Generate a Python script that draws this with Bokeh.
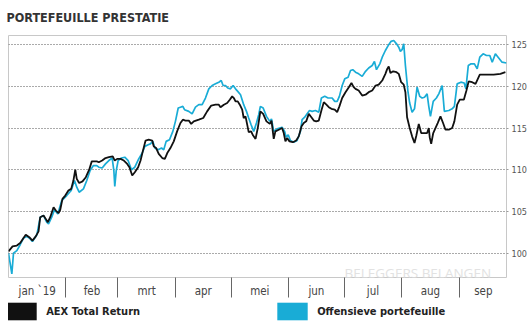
from bokeh.plotting import figure
from bokeh.layouts import column
from bokeh.models import (ColumnDataSource, FixedTicker, Range1d, Label,
                          Legend, LegendItem)
from bokeh.embed import file_html
from bokeh.resources import INLINE

# ---------------- data (days since 1 Jan 2019, index level) ----------------
aex_day = [0, 2.2, 4.5, 6.3, 8.1, 9.3, 11.2, 12.9, 14.7, 16.2,
           17.1, 18.9, 20.1, 21.2, 22.5, 24.3, 25.5, 27.0, 27.9, 29.1,
           30.6, 32.3, 33.8, 35.0, 36.0, 36.8, 38.1, 39.9, 41.7, 43.5,
           44.9, 47.6, 48.7, 50.5, 52.3, 54.1, 56.2, 57.3, 58.6, 60.4,
           62.2, 64.0, 65.2, 66.7, 68.1, 69.9, 71.2, 72.4, 73.9, 75.6,
           77.5, 78.3, 79.6, 81.0, 82.9, 84.3, 85.6, 87.3, 89.1, 90.9,
           92.7, 94.0, 95.4, 97.2, 98.5, 99.9, 102.6, 105.0, 107.1, 109.3,
           111.6, 113.4, 114.3, 116.1, 117.9, 119.3, 120.6, 121.5, 122.4, 123.6,
           124.7, 126.0, 126.8, 127.8, 128.7, 129.5, 130.8, 131.9, 133.2, 134.4,
           135.8, 137.3, 139.1, 140.9, 141.8, 143.0, 143.9, 145.7, 147.5, 148.4,
           149.3, 150.2, 151.5, 153.3, 155.1, 156.5, 158.0, 159.2, 160.5, 161.9,
           163.3, 164.6, 165.9, 167.3, 168.7, 170.0, 171.4, 172.7, 174.1, 175.9,
           177.2, 178.4, 179.9, 181.7, 183.5, 184.9, 186.1, 187.1, 188.8, 190.7,
           192.5, 194.2, 196.1, 197.9, 199.6, 201.5, 203.2, 204.2, 205.0, 205.9,
           207.4, 209.2, 210.4, 211.7, 213.1, 214.0, 214.9, 216.3, 217.6, 218.9,
           219.9, 221.2, 222.5, 224.3, 225.7, 226.6, 227.1, 227.9, 229.0, 230.2,
           231.4, 232.9, 234.3, 235.6, 237.4, 239.2, 240.4, 241.9, 243.3, 245.5,
           246.9, 248.1, 250.0, 251.8, 254.1, 256.2, 261.6, 265.2, 267.9]
aex_val = [100.2, 100.8, 100.9, 101.2, 101.8, 102.2, 101.9, 101.5, 102.0, 102.6,
           104.3, 104.5, 104.1, 103.7, 104.3, 105.5, 105.1, 104.8, 105.2, 106.5,
           106.9, 107.5, 107.7, 108.7, 110.0, 108.9, 108.4, 108.6, 109.1, 110.0,
           111.0, 111.0, 110.9, 111.1, 111.4, 111.5, 111.6, 111.1, 111.3, 111.3,
           111.1, 110.7, 110.3, 109.3, 109.7, 110.3, 111.1, 112.2, 113.5, 113.6,
           113.5, 112.8, 112.6, 111.9, 111.4, 111.3, 112.0, 112.6, 113.4, 114.6,
           115.6, 116.0, 115.9, 115.9, 115.5, 115.8, 116.0, 116.2, 117.0, 117.7,
           117.8, 117.8, 117.5, 117.8, 118.0, 118.4, 118.8, 118.6, 118.2, 118.2,
           117.8, 117.2, 116.2, 116.4, 115.4, 114.5, 114.6, 114.1, 113.7, 115.0,
           117.0, 116.7, 115.8, 115.5, 115.9, 113.7, 114.6, 114.8, 115.0, 114.4,
           113.4, 113.8, 113.4, 113.3, 113.5, 114.0, 115.2, 115.6, 115.8, 116.7,
           116.3, 115.9, 115.8, 115.9, 117.1, 118.1, 117.8, 117.5, 117.3, 117.2,
           116.9, 117.6, 118.6, 119.3, 119.9, 120.4, 119.9, 119.7, 119.5, 118.9,
           119.0, 119.3, 119.5, 120.1, 120.2, 120.7, 121.5, 122.1, 122.4, 121.6,
           121.8, 121.7, 121.5, 120.5, 120.2, 119.3, 116.3, 115.0, 114.0, 113.2,
           114.1, 115.5, 114.4, 114.4, 114.4, 115.0, 113.9, 113.1, 114.4, 115.0,
           115.6, 116.4, 115.6, 114.8, 114.8, 115.0, 115.8, 117.8, 118.4, 118.4,
           119.5, 120.6, 120.5, 120.3, 121.4, 121.4, 121.4, 121.5, 121.7]

off_day = [0, 1.8, 2.7, 4.5, 6.3, 8.1, 9.9, 11.7, 12.9, 15.3,
           17.1, 18.9, 20.6, 21.6, 23.3, 24.8, 26.6, 28.7, 31.4, 33.8,
           35.6, 36.8, 38.1, 40.4, 42.2, 44.0, 45.8, 47.6, 48.7, 50.5,
           52.3, 54.1, 55.9, 56.8, 57.3, 58.1, 59.1, 60.9, 62.7, 64.5,
           66.3, 68.1, 70.2, 72.1, 73.5, 75.3, 76.5, 77.8, 78.9, 80.7,
           82.5, 83.7, 85.0, 86.8, 88.6, 90.0, 91.5, 92.7, 94.0, 94.9,
           97.2, 99.0, 100.8, 102.6, 104.4, 106.2, 108.0, 109.8, 111.6, 113.4,
           114.7, 115.7, 117.0, 118.2, 119.7, 121.1, 122.4, 123.6, 125.1, 126.8,
           128.3, 129.5, 130.8, 132.2, 133.7, 134.9, 135.8, 137.3, 139.1, 140.9,
           141.8, 143.0, 144.9, 147.5, 148.9, 149.7, 150.8, 152.0, 153.8, 155.6,
           157.4, 158.3, 159.7, 161.0, 162.3, 163.7, 165.5, 167.3, 168.7, 170.5,
           172.3, 174.5, 175.9, 177.2, 178.4, 179.9, 181.3, 183.1, 184.4, 185.6,
           187.1, 188.8, 190.7, 192.5, 194.2, 196.1, 197.3, 198.4, 200.2, 201.5,
           203.2, 205.0, 206.3, 207.7, 209.2, 210.4, 211.3, 212.2, 213.1, 214.0,
           215.3, 216.3, 217.6, 218.9, 220.3, 221.7, 223.0, 224.3, 225.7, 226.6,
           227.5, 229.0, 230.7, 232.0, 233.8, 235.0, 237.4, 239.2, 240.4, 241.9,
           243.9, 245.7, 246.6, 247.9, 249.4, 251.2, 252.7, 254.1, 255.9, 257.7,
           259.5, 260.8, 262.5, 264.3, 266.1, 268.5]
off_val = [100.0, 97.5, 100.0, 100.3, 101.0, 101.8, 102.0, 101.7, 101.4, 102.2,
           104.3, 104.5, 103.7, 103.5, 104.3, 105.2, 104.7, 106.3, 106.9, 107.5,
           108.7, 107.9, 107.3, 107.7, 108.7, 109.9, 110.5, 110.5, 110.3, 110.2,
           110.7, 111.1, 111.4, 109.9, 108.0, 109.9, 111.1, 111.4, 111.5, 111.1,
           110.0, 110.3, 111.3, 112.0, 112.8, 113.0, 113.1, 113.4, 112.6, 112.4,
           112.6, 112.4, 113.4, 113.6, 114.6, 115.8, 117.4, 117.5, 117.6, 117.2,
           117.0, 116.7, 117.5, 117.8, 117.8, 118.6, 119.7, 120.1, 120.3, 120.5,
           120.7, 120.1, 120.1, 119.8, 119.7, 120.1, 119.7, 119.4, 119.0, 117.8,
           117.0, 116.2, 115.4, 114.6, 115.6, 116.6, 117.6, 117.4, 116.4, 115.8,
           116.1, 114.6, 114.9, 115.1, 114.6, 113.9, 114.2, 113.5, 113.3, 113.5,
           114.6, 116.0, 116.3, 116.7, 117.1, 117.0, 117.1, 116.9, 118.6, 118.8,
           118.6, 118.6, 118.2, 118.2, 118.8, 120.1, 120.9, 121.1, 121.9, 122.0,
           121.7, 121.5, 121.2, 121.8, 122.2, 122.5, 123.0, 122.0, 122.7, 123.5,
           124.3, 125.0, 125.4, 125.5, 125.1, 124.7, 124.2, 124.4, 125.1, 122.5,
           119.5, 118.0, 116.9, 117.3, 119.9, 118.8, 118.6, 118.7, 119.1, 117.6,
           116.4, 118.2, 118.6, 119.1, 120.1, 117.0, 117.1, 117.3, 117.6, 120.3,
           120.5, 120.4, 119.7, 122.5, 122.7, 122.7, 122.1, 123.5, 123.9, 123.7,
           123.7, 122.9, 123.9, 123.4, 122.9, 122.8]

assert len(aex_day) == len(aex_val), (len(aex_day), len(aex_val))
assert len(off_day) == len(off_val), (len(off_day), len(off_val))

month_starts = [31, 59, 90, 120, 151, 181, 212, 243]
month_mids = [15.5, 45, 74.5, 105, 135.5, 166, 196.5, 227.5, 256]
month_labels = ["jan `19", "feb", "mrt", "apr", "mei", "jun", "jul", "aug", "sep"]
y_ticks = [100, 105, 110, 115, 120, 125]

title_text = "PORTEFEUILLE PRESTATIE"
series_names = ["AEX Total Return", "Offensieve portefeuille"]
series_colors = ["#111111", "#19acd6"]

NARROW = "'Liberation Sans Narrow', 'Arial Narrow', 'DejaVu Sans Condensed', sans-serif"

# ---------------- main chart ----------------
p = figure(width=531, height=300, output_backend="svg", toolbar_location=None,
           title=title_text, x_range=Range1d(0, 268.5), y_range=Range1d(97.07, 126.1),
           y_axis_location="right",
           min_border_left=8, min_border_right=25, min_border_top=33,
           min_border_bottom=22)
p.background_fill_color = "white"
p.border_fill_color = "white"
p.outline_line_color = "#c8c8c8"
p.outline_line_width = 1

p.title.align = "left"
p.title.vertical_align = "top"
p.title.offset = -2
p.title.standoff = 18
p.title.text_font = NARROW
p.title.text_font_style = "bold"
p.title.text_font_size = "12.5px"
p.title.text_color = "#333333"

p.xgrid.visible = False
p.ygrid.ticker = FixedTicker(ticks=y_ticks)
p.ygrid.grid_line_color = "#555555"
p.ygrid.grid_line_dash = "1 2"
p.ygrid.grid_line_width = 1

yax = p.yaxis[0]
yax.ticker = FixedTicker(ticks=y_ticks)
yax.axis_line_color = None
yax.major_tick_line_color = "#999999"
yax.major_tick_out = 2
yax.major_tick_in = 0
yax.minor_tick_line_color = None
yax.major_label_standoff = 3
yax.major_label_text_font = NARROW
yax.major_label_text_font_size = "9px"
yax.major_label_text_color = "#555555"

xax = p.xaxis[0]
xax.ticker = FixedTicker(ticks=month_mids, minor_ticks=month_starts)
xax.major_label_overrides = {m: l for m, l in zip(month_mids, month_labels)}
xax.axis_line_color = None
xax.major_tick_line_color = None
xax.major_tick_out = 0
xax.major_tick_in = 0
xax.minor_tick_line_color = "#666666"
xax.minor_tick_out = 20
xax.minor_tick_in = 0
xax.major_label_standoff = -14
xax.major_label_text_font = NARROW
xax.major_label_text_font_size = "11.5px"
xax.major_label_text_color = "#444444"

src_aex = ColumnDataSource(dict(x=aex_day, y=aex_val))
src_off = ColumnDataSource(dict(x=off_day, y=off_val))
p.line("x", "y", source=src_off, line_color=series_colors[1], line_width=1.7)
p.line("x", "y", source=src_aex, line_color=series_colors[0], line_width=1.8)

p.add_layout(Label(x=336, y=5, x_units="screen", y_units="screen",
                   text="BELEGGERS BELANGEN", text_font="Open Sans",
                   text_font_size="13.5px", text_color="#e2e2e2",
                   text_baseline="alphabetic"))

# ---------------- legend strip ----------------
lg = figure(width=531, height=26, output_backend="svg", toolbar_location=None,
            x_range=Range1d(0, 1), y_range=Range1d(0, 1),
            min_border=0, min_border_left=0, min_border_right=0,
            min_border_top=0, min_border_bottom=0)
lg.axis.visible = False
lg.grid.visible = False
lg.outline_line_color = None
lg.background_fill_color = "white"
lg.border_fill_color = "white"
# swatch renderers lie outside the strip's visible range; only their legend
# entries are seen
sw1 = lg.quad(left=[5], right=[6], top=[6], bottom=[5],
              fill_color=series_colors[0], line_color=None)
sw2 = lg.quad(left=[5], right=[6], top=[6], bottom=[5],
              fill_color=series_colors[1], line_color=None)
legend = Legend(items=[LegendItem(label=series_names[0], renderers=[sw1]),
                       LegendItem(label=series_names[1], renderers=[sw2])],
                orientation="horizontal", location=(-5.8, 4),
                glyph_width=38, glyph_height=22, label_standoff=6,
                label_width=200, spacing=27, padding=0, margin=0,
                border_line_color=None, background_fill_alpha=0,
                label_text_font=NARROW, label_text_font_style="bold",
                label_text_font_size="11px", label_text_color="#222222")
lg.add_layout(legend)

layout = column(p, lg, spacing=0)
open("out.html", "w").write(file_html(layout, INLINE))
